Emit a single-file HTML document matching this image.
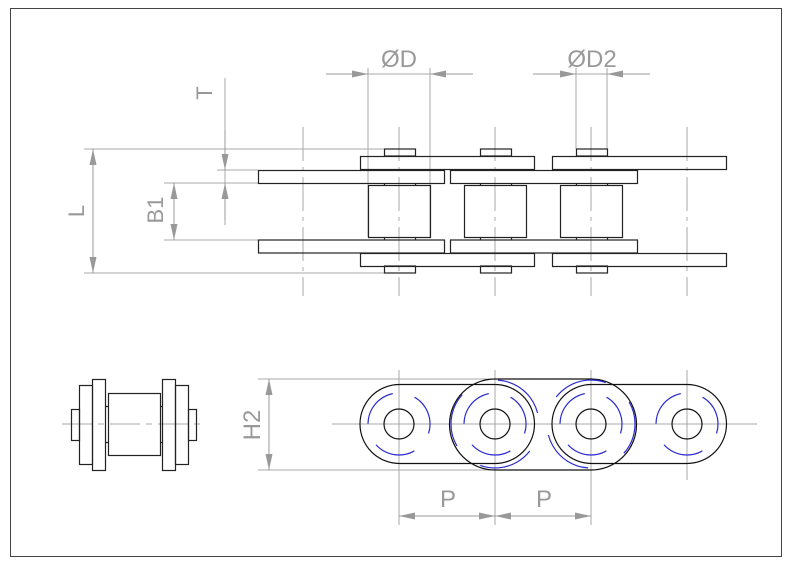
<!DOCTYPE html>
<html><head><meta charset="utf-8"><style>
html,body{margin:0;padding:0;background:#fff;}
svg{display:block;}
text{font-family:"Liberation Sans",sans-serif;fill:#999;}
</style></head><body>
<svg width="800" height="566" viewBox="0 0 800 566" xmlns="http://www.w3.org/2000/svg">
<defs>
<marker id="a" markerUnits="userSpaceOnUse" markerWidth="16" markerHeight="8" refX="16" refY="4" orient="auto">
<path d="M0,0.5 L16,4 L0,7.5 z" fill="#999"/>
</marker>
</defs>
<rect x="10.5" y="8.5" width="771" height="548" fill="none" stroke="#444" stroke-width="1"/>

<g stroke="#aaa" stroke-width="1" stroke-dasharray="34 6 4 6">
<line x1="303" y1="127" x2="303" y2="296"/>
<line x1="399" y1="127" x2="399" y2="296"/>
<line x1="495" y1="127" x2="495" y2="296"/>
<line x1="591" y1="127" x2="591" y2="296"/>
<line x1="687" y1="127" x2="687" y2="296"/>
</g>

<g stroke="#aaa" stroke-width="1" fill="none">
<line x1="84" y1="149" x2="384" y2="149"/>
<line x1="84" y1="273" x2="384" y2="273"/>
<line x1="217" y1="170" x2="258" y2="170"/>
<line x1="164" y1="183" x2="258" y2="183"/>
<line x1="164" y1="240" x2="258" y2="240"/>
<line x1="368" y1="68" x2="368" y2="237"/>
<line x1="430" y1="68" x2="430" y2="237"/>
<line x1="576" y1="68" x2="576" y2="149"/>
<line x1="607" y1="68" x2="607" y2="149"/>
<line x1="326" y1="74" x2="473" y2="74"/>
<line x1="533" y1="74" x2="650" y2="74"/>
<line x1="225" y1="78" x2="225" y2="225"/>
<line x1="93" y1="149" x2="93" y2="273"/>
<line x1="174" y1="183" x2="174" y2="240"/>
</g>
<g stroke="#999" stroke-width="1" marker-end="url(#a)">
<line x1="326" y1="74" x2="368" y2="74"/>
<line x1="473" y1="74" x2="430" y2="74"/>
<line x1="533" y1="74" x2="576" y2="74"/>
<line x1="650" y1="74" x2="607" y2="74"/>
<line x1="225" y1="130" x2="225" y2="170"/>
<line x1="225" y1="220" x2="225" y2="183"/>
<line x1="93" y1="211" x2="93" y2="149"/>
<line x1="93" y1="211" x2="93" y2="273"/>
<line x1="174" y1="211" x2="174" y2="183"/>
<line x1="174" y1="211" x2="174" y2="240"/>
</g>
<text x="399" y="67" font-size="24" text-anchor="middle">ØD</text>
<text x="592" y="67" font-size="24" text-anchor="middle">ØD2</text>
<text transform="translate(212,93) rotate(-90)" font-size="22" text-anchor="middle">T</text>
<text transform="translate(163,210) rotate(-90)" font-size="22" text-anchor="middle">B1</text>
<text transform="translate(84,211) rotate(-90)" font-size="22" text-anchor="middle">L</text>

<g stroke="#222" stroke-width="1.2" fill="none">
<rect x="384.5" y="149" width="31" height="7"/>
<rect x="480.5" y="149" width="31" height="7"/>
<rect x="576.5" y="149" width="31" height="7"/>
<rect x="384.5" y="266" width="31" height="7"/>
<rect x="480.5" y="266" width="31" height="7"/>
<rect x="576.5" y="266" width="31" height="7"/>
<rect x="360.5" y="156.5" width="174" height="13"/>
<rect x="552.5" y="156.5" width="174" height="13"/>
<rect x="360.5" y="253.5" width="174" height="13"/>
<rect x="552.5" y="253.5" width="174" height="13"/>
<rect x="258.5" y="170.5" width="186" height="13"/>
<rect x="450.5" y="170.5" width="187" height="13"/>
<rect x="258.5" y="240" width="186" height="13"/>
<rect x="450.5" y="240" width="187" height="13"/>
<rect x="368.5" y="185.5" width="62" height="52"/>
<rect x="464.5" y="185.5" width="62" height="52"/>
<rect x="560.5" y="185.5" width="62" height="52"/>
<path d="M384.5 183v2.5M415.5 183v2.5M480.5 183v2.5M511.5 183v2.5M576.5 183v2.5M607.5 183v2.5M384.5 237.5v2.5M415.5 237.5v2.5M480.5 237.5v2.5M511.5 237.5v2.5M576.5 237.5v2.5M607.5 237.5v2.5"/>
</g>

<g stroke="#aaa" stroke-width="1">
<line x1="332" y1="424" x2="757" y2="424"/>
<line x1="399" y1="370" x2="399" y2="525"/>
<line x1="495" y1="370" x2="495" y2="525"/>
<line x1="591" y1="370" x2="591" y2="525"/>
<line x1="687" y1="370" x2="687" y2="480"/>
<line x1="258" y1="379" x2="495" y2="379"/>
<line x1="258" y1="470" x2="495" y2="470"/>
<line x1="269" y1="379" x2="269" y2="470"/>
<line x1="399" y1="516" x2="591" y2="516"/>
</g>
<g stroke="#999" stroke-width="1" marker-end="url(#a)">
<line x1="269" y1="424" x2="269" y2="379"/>
<line x1="269" y1="424" x2="269" y2="470"/>
<line x1="447" y1="516" x2="399" y2="516"/>
<line x1="447" y1="516" x2="495" y2="516"/>
<line x1="543" y1="516" x2="495" y2="516"/>
<line x1="543" y1="516" x2="591" y2="516"/>
</g>
<text transform="translate(260,425) rotate(-90)" font-size="24" text-anchor="middle">H2</text>
<text x="448" y="507" font-size="24" text-anchor="middle">P</text>
<text x="544" y="507" font-size="24" text-anchor="middle">P</text>

<g stroke="#111" stroke-width="1.2" fill="none">
<rect x="360" y="384.5" width="174.5" height="79" rx="39.5"/>
<rect x="552" y="384.5" width="174.5" height="79" rx="39.5"/>
<path d="M495 379 H591 A45.5 45.5 0 0 1 591 470 H495 A45.5 45.5 0 0 1 495 379 Z"/>
<circle cx="399" cy="424" r="15"/>
<circle cx="495" cy="424" r="15"/>
<circle cx="591" cy="424" r="15"/>
<circle cx="687" cy="424" r="15"/>
</g>
<g stroke="#2a2ad0" stroke-width="1.2" fill="none" stroke-dasharray="42 23">
<circle cx="399" cy="424" r="31" transform="rotate(-60 399 424)"/>
<circle cx="495" cy="424" r="31" transform="rotate(-60 495 424)"/>
<circle cx="591" cy="424" r="31" transform="rotate(-60 591 424)"/>
<circle cx="687" cy="424" r="31" transform="rotate(-60 687 424)"/>
<circle cx="495" cy="424" r="44" stroke-dasharray="55 40" transform="rotate(150 495 424)"/>
<circle cx="591" cy="424" r="44" stroke-dasharray="55 40" transform="rotate(-30 591 424)"/>
</g>

<line x1="62" y1="424" x2="206" y2="424" stroke="#aaa" stroke-width="1" stroke-dasharray="30 6 6 6"/>
<g stroke="#222" stroke-width="1.2" fill="none">
<rect x="71.5" y="409.5" width="8" height="31"/>
<rect x="79.5" y="385.5" width="13" height="79"/>
<rect x="92.5" y="379.5" width="13" height="91"/>
<rect x="108.5" y="393.5" width="52" height="62"/>
<rect x="162.5" y="379.5" width="13" height="91"/>
<rect x="175.5" y="385.5" width="13" height="79"/>
<rect x="188.5" y="409.5" width="8" height="31"/>
<path d="M105.5 406.5h3M105.5 442.5h3M160.5 406.5h2M160.5 442.5h2"/>
</g>
</svg>
</body></html>
